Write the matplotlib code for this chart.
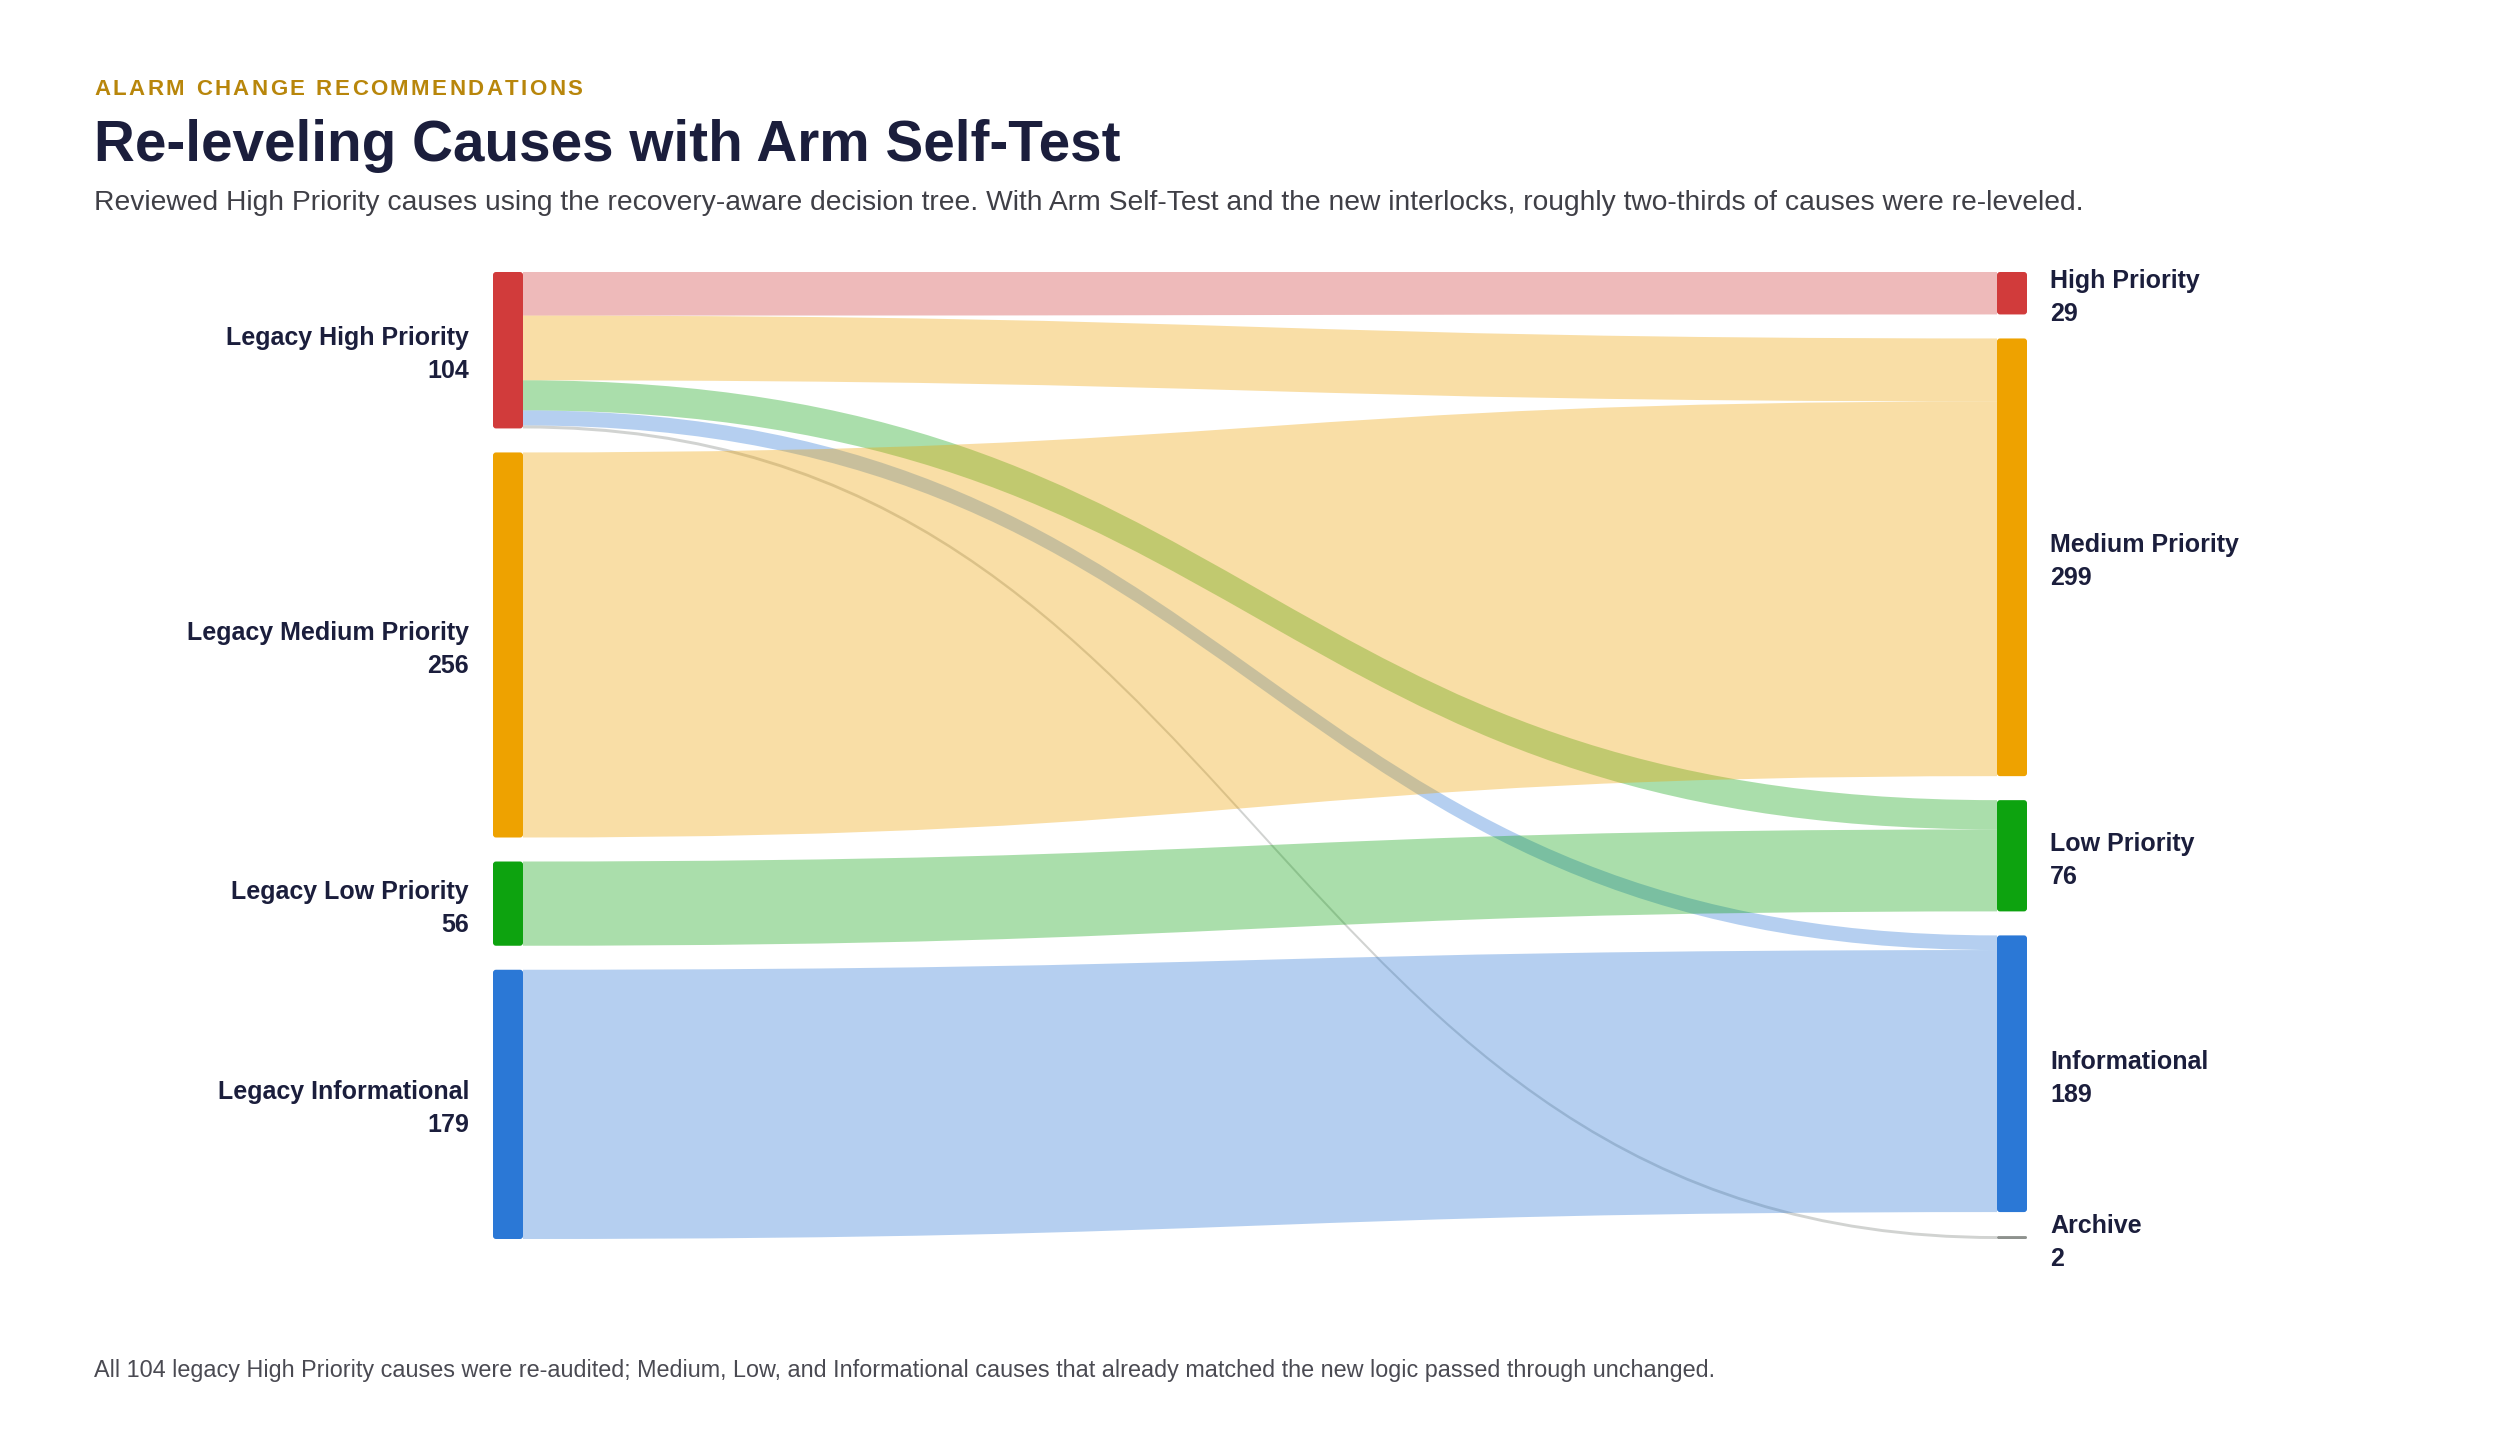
import matplotlib
matplotlib.use('Agg')
import matplotlib.pyplot as plt
from matplotlib.patches import FancyBboxPatch, PathPatch
from matplotlib.path import Path
from matplotlib.colors import to_rgba

# ---- data ----
source_names = ['Legacy High Priority', 'Legacy Medium Priority', 'Legacy Low Priority', 'Legacy Informational']
target_names = ['High Priority', 'Medium Priority', 'Low Priority', 'Informational', 'Archive']
source_colors = ['#D13B3B', '#EEA200', '#0DA30F', '#2B78D6']
target_colors = ['#D13B3B', '#EEA200', '#0DA30F', '#2B78D6', '#8E928E']

link_source = [0, 0, 0, 0, 0, 1, 2, 3]
link_target = [0, 1, 2, 3, 4, 1, 2, 3]
link_value = [29, 43, 20, 10, 2, 256, 56, 179]

eyebrow = 'ALARM CHANGE RECOMMENDATIONS'
title = 'Re-leveling Causes with Arm Self-Test'
subtitle = ('Reviewed High Priority causes using the recovery-aware decision tree. '
            'With Arm Self-Test and the new interlocks, roughly two-thirds of causes were re-leveled.')
footnote = ('All 104 legacy High Priority causes were re-audited; Medium, Low, and Informational '
            'causes that already matched the new logic passed through unchanged.')

# ---- layout (pixels) ----
W, H = 2500, 1447
TOP, BOTTOM = 272, 1239
GAP = 24
NODE_W = 30
X_LEFT, X_RIGHT = 493, 1997
NAVY = '#1B1E3C'
FONT = 'Liberation Sans'

fig = plt.figure(figsize=(W / 100, H / 100), dpi=100)
fig.patch.set_facecolor('white')
ax = fig.add_axes([0, 0, 1, 1])
ax.set_xlim(0, W)
ax.set_ylim(H, 0)
ax.axis('off')


def column_layout(values):
    ky = (BOTTOM - TOP - GAP * (len(values) - 1)) / sum(values)
    y = TOP
    spans = []
    for v in values:
        spans.append((y, y + v * ky))
        y += v * ky + GAP
    return ky, spans


src_vals = [sum(v for s, v in zip(link_source, link_value) if s == i) for i in range(len(source_names))]
tgt_vals = [sum(v for t, v in zip(link_target, link_value) if t == i) for i in range(len(target_names))]
ky_s, src_spans = column_layout(src_vals)
ky_t, tgt_spans = column_layout(tgt_vals)

# link offsets inside nodes (sorted by other end's order)
src_off = [s[0] for s in src_spans]
tgt_off = [t[0] for t in tgt_spans]
order = sorted(range(len(link_value)), key=lambda k: (link_source[k], link_target[k]))
link_src_y = {}
for k in order:
    s = link_source[k]
    link_src_y[k] = (src_off[s], src_off[s] + link_value[k] * ky_s)
    src_off[s] += link_value[k] * ky_s
order_t = sorted(range(len(link_value)), key=lambda k: (link_target[k], link_source[k]))
link_tgt_y = {}
for k in order_t:
    t = link_target[k]
    link_tgt_y[k] = (tgt_off[t], tgt_off[t] + link_value[k] * ky_t)
    tgt_off[t] += link_value[k] * ky_t

x0 = X_LEFT + NODE_W
x1 = X_RIGHT
xm = (x0 + x1) / 2
for k in range(len(link_value)):
    (sa, sb), (ta, tb) = link_src_y[k], link_tgt_y[k]
    verts = [(x0, sa), (xm, sa), (xm, ta), (x1, ta),
             (x1, tb), (xm, tb), (xm, sb), (x0, sb), (x0, sa)]
    codes = [Path.MOVETO, Path.CURVE4, Path.CURVE4, Path.CURVE4,
             Path.LINETO, Path.CURVE4, Path.CURVE4, Path.CURVE4, Path.CLOSEPOLY]
    alpha = 0.4 if link_target[k] == 4 else 0.35
    col = to_rgba(target_colors[link_target[k]], alpha)
    ax.add_patch(PathPatch(Path(verts, codes), facecolor=col, edgecolor='none', zorder=2))


def node(x, y0, y1, color):
    h = y1 - y0
    r = min(3, h / 2)
    ax.add_patch(FancyBboxPatch((x, y0), NODE_W, h,
                                boxstyle=f'round,pad=0,rounding_size={r}',
                                facecolor=color, edgecolor='none', zorder=3))


for i, (a, b) in enumerate(src_spans):
    node(X_LEFT, a, b, source_colors[i])
    c = (a + b) / 2
    ax.text(469, c - 5, source_names[i], ha='right', va='baseline', fontsize=18,
            fontweight='bold', color=NAVY, family=FONT)
    ax.text(469, c + 28, str(src_vals[i]), ha='right', va='baseline', fontsize=18,
            fontweight='bold', color=NAVY, family=FONT)

for i, (a, b) in enumerate(tgt_spans):
    node(X_RIGHT, a, b, target_colors[i])
    c = (a + b) / 2
    ax.text(2050, c - 5, target_names[i], ha='left', va='baseline', fontsize=18,
            fontweight='bold', color=NAVY, family=FONT)
    ax.text(2050, c + 28, str(tgt_vals[i]), ha='left', va='baseline', fontsize=18,
            fontweight='bold', color=NAVY, family=FONT)

# ---- eyebrow with letter spacing ----
renderer = fig.canvas.get_renderer()
x = 94
spacing = 2.45
for ch in eyebrow:
    if ch == ' ':
        x += 6.5 + spacing
        continue
    t = ax.text(x, 95, ch, ha='left', va='baseline', fontsize=16, fontweight='bold',
                color='#B8860B', family=FONT)
    w = t.get_window_extent(renderer).width
    x += w + spacing

ax.text(94, 161, title, ha='left', va='baseline', fontsize=40.8, fontweight='bold',
        color=NAVY, family=FONT)
ax.text(94, 210, subtitle, ha='left', va='baseline', fontsize=20.3, color='#3F3F46', family=FONT)
ax.text(94, 1377, footnote, ha='left', va='baseline', fontsize=16.8, color='#4A4A52', family=FONT)

fig.savefig('out.png', dpi=100, facecolor='white')
